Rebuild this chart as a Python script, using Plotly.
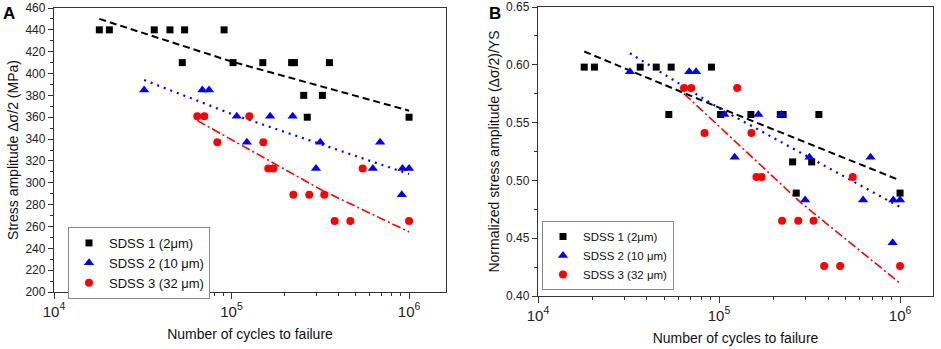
import plotly.graph_objects as go

# ---------------- data ----------------
black_N = [18000, 20500, 36700, 45000, 54400, 90800, 52800, 102000, 150000, 218000, 226000, 356000, 255000, 325000, 267000, 1000000]
black_S = [440, 440, 440, 440, 440, 440, 410, 410, 410, 410, 410, 410, 380, 380, 360, 360]
black_R = [0.598, 0.598, 0.598, 0.598, 0.598, 0.598, 0.557, 0.557, 0.557, 0.557, 0.557, 0.557, 0.516, 0.516, 0.489, 0.489]

blue_N = [32200, 68500, 74700, 107000, 165000, 221000, 122000, 316000, 687000, 299000, 625000, 918000, 1000000, 910000]
blue_S = [385, 385, 385, 361, 361, 361, 337, 337, 337, 313, 313, 313, 313, 289]
blue_R = [0.594, 0.594, 0.594, 0.557, 0.557, 0.557, 0.520, 0.520, 0.520, 0.483, 0.483, 0.483, 0.483, 0.446]

red_N = [64100, 70300, 126000, 83200, 151000, 161000, 172000, 548000, 223000, 274000, 333000, 381000, 467000, 1000000]
red_S = [361, 361, 361, 337, 337, 313, 313, 313, 289, 289, 289, 265, 265, 265]
red_R = [0.580, 0.580, 0.580, 0.541, 0.541, 0.503, 0.503, 0.503, 0.465, 0.465, 0.465, 0.426, 0.426, 0.426]

# fitted trend lines
fitA_black_N = [18000, 100000, 1000000]
fitA_black_S = [450, 411, 366]
fitA_blue_N = [32200, 100000, 1000000]
fitA_blue_S = [394, 363, 308]
fitA_red_N = [64100, 325000, 1000000]
fitA_red_S = [357, 293, 255]

fitB_black_N = [18000, 100000, 1000000]
fitB_black_R = [0.6115, 0.563, 0.500]
fitB_blue_N = [32200, 100000, 1000000]
fitB_blue_R = [0.610, 0.5625, 0.477]
fitB_red_N = [64100, 282000, 1000000]
fitB_red_R = [0.575, 0.481, 0.411]

names = ["SDSS 1 (2μm)", "SDSS 2 (10 μm)", "SDSS 3 (32 μm)"]
colors = ["#000000", "#0000FF", "#FF0000"]
symbols = ["square", "triangle-up", "circle"]
msizes = [7, 9, 8]

W, H = 941, 349
FONT = "Liberation Sans, Arial, sans-serif"

fig = go.Figure()

pts_A = [(black_N, black_S), (blue_N, blue_S), (red_N, red_S)]
pts_B = [(black_N, black_R), (blue_N, blue_R), (red_N, red_R)]
fits_A = [(fitA_black_N, fitA_black_S), (fitA_blue_N, fitA_blue_S), (fitA_red_N, fitA_red_S)]
fits_B = [(fitB_black_N, fitB_black_R), (fitB_blue_N, fitB_blue_R), (fitB_red_N, fitB_red_R)]
dashes = ["7px,4px", "2px,5px", "9px,3px,2px,3px"]
lwidths = [2, 2.2, 1.6]

for i in range(3):
    fig.add_trace(go.Scatter(x=fits_A[i][0], y=fits_A[i][1], mode="lines",
                             line=dict(color=colors[i], width=lwidths[i], dash=dashes[i]),
                             showlegend=False, xaxis="x", yaxis="y"))
    fig.add_trace(go.Scatter(x=fits_B[i][0], y=fits_B[i][1], mode="lines",
                             line=dict(color=colors[i], width=lwidths[i], dash=dashes[i]),
                             showlegend=False, xaxis="x2", yaxis="y2"))

for i in range(3):
    fig.add_trace(go.Scatter(x=pts_A[i][0], y=pts_A[i][1], mode="markers", name=names[i],
                             marker=dict(color=colors[i], symbol=symbols[i], size=msizes[i]),
                             xaxis="x", yaxis="y", legend="legend"))
    fig.add_trace(go.Scatter(x=pts_B[i][0], y=pts_B[i][1], mode="markers", name=names[i],
                             marker=dict(color=colors[i], symbol=symbols[i], size=msizes[i]),
                             xaxis="x2", yaxis="y2", legend="legend2"))

def px_x(p):
    return p / W

def px_y(p):
    return 1 - p / H

axis_common = dict(showline=True, linecolor="#333", linewidth=1.3, mirror=True,
                   ticks="outside", tickcolor="#333", showgrid=False, zeroline=False,
                   automargin=False,
                   tickfont=dict(family=FONT, size=12, color="#222"))

xaxis_common = dict(axis_common, type="log", dtick=1, exponentformat="power",
                    ticklen=6, minor=dict(ticks="outside", ticklen=3, dtick="D1", tickcolor="#333"),
                    title=dict(text="Number of cycles to failure",
                               font=dict(family=FONT, size=14, color="#111"), standoff=10))

fig.update_layout(
    width=W, height=H,
    margin=dict(l=0, r=0, t=0, b=0, autoexpand=False),
    paper_bgcolor="white", plot_bgcolor="white",
    showlegend=True,
    xaxis=dict(xaxis_common, domain=[px_x(54), px_x(446)], range=[4, 6.208], anchor="y"),
    yaxis=dict(axis_common, domain=[px_y(292), px_y(8)], range=[200, 460], dtick=20, ticklen=5,
               minor=dict(ticks="outside", ticklen=3, dtick=10, tickcolor="#333"),
               anchor="x",
               title=dict(text="Stress amplitude Δσ/2 (MPa)",
                          font=dict(family=FONT, size=14, color="#111"), standoff=3)),
    xaxis2=dict(xaxis_common, domain=[px_x(538), px_x(933)], range=[4, 6.182], anchor="y2"),
    yaxis2=dict(axis_common, domain=[px_y(296), px_y(7)], range=[0.40, 0.65], dtick=0.05,
                tickformat=".2f", ticklen=5,
                minor=dict(ticks="outside", ticklen=3, dtick=0.025, tickcolor="#333"),
                anchor="x2",
                title=dict(text="Normalized stress amplitude (Δσ/2)/YS",
                           font=dict(family=FONT, size=14, color="#111"), standoff=3)),
    legend=dict(x=px_x(68), y=px_y(227), xanchor="left", yanchor="top",
                bgcolor="white", bordercolor="#888", borderwidth=1,
                font=dict(family=FONT, size=13, color="#111"), tracegroupgap=0,
                itemwidth=30),
    legend2=dict(x=px_x(542), y=px_y(221), xanchor="left", yanchor="top",
                 bgcolor="white", bordercolor="#888", borderwidth=1,
                 font=dict(family=FONT, size=11.5, color="#111"), tracegroupgap=0,
                 itemwidth=30),
    annotations=[
        dict(text="<b>A</b>", x=px_x(1), y=px_y(2), xref="paper", yref="paper",
             xanchor="left", yanchor="top", showarrow=False,
             font=dict(family=FONT, size=17, color="#000")),
        dict(text="<b>B</b>", x=px_x(487), y=px_y(2), xref="paper", yref="paper",
             xanchor="left", yanchor="top", showarrow=False,
             font=dict(family=FONT, size=17, color="#000")),
    ],
)

fig.write_html("out.html", config={"displayModeBar": False},
               post_script="document.body.style.margin='0px';")
